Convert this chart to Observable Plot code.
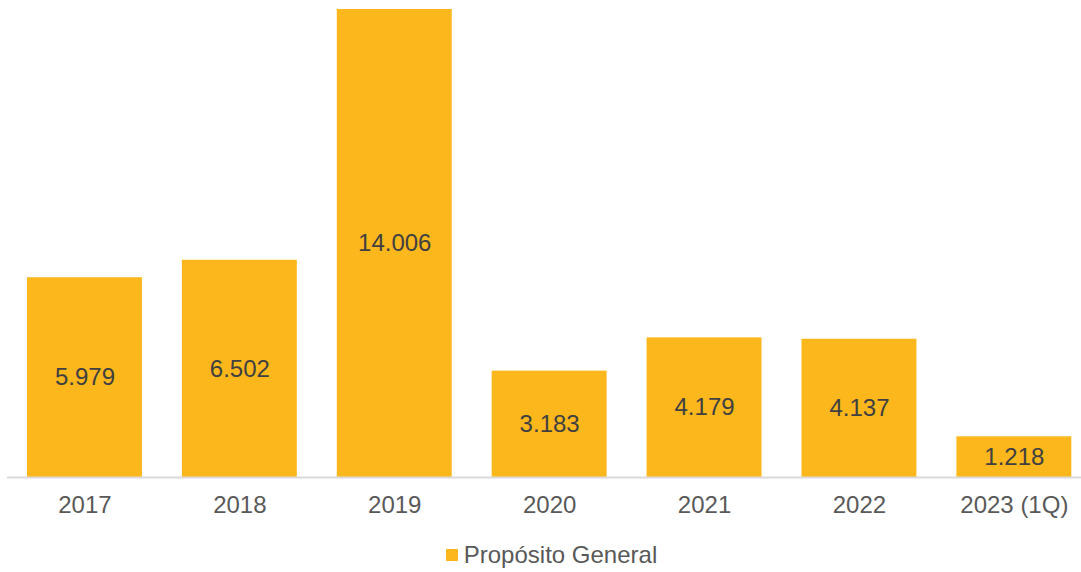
<!DOCTYPE html>
<html>
<head>
<meta charset="utf-8">
<script src="https://cdn.jsdelivr.net/npm/d3@7"></script>
<script src="https://cdn.jsdelivr.net/npm/@observablehq/plot@0.6"></script>
<style>
  html, body { margin: 0; padding: 0; background: #fff; }
  body { width: 1081px; height: 572px; overflow: hidden; font-family: "Liberation Sans", Arial, sans-serif; }
  #legend { display: flex; justify-content: center; align-items: center; margin-top: 12px; height: 26px; color: #595959; font-size: 24px; padding-left: 38px; }
  #legend .sw { width: 12px; height: 12px; background: #FCB71C; margin-right: 6px; margin-left: -16px; }
</style>
</head>
<body>
<div id="chart"></div>
<div id="legend"><span class="sw"></span><span id="legtext"></span></div>
<script>
const categories = ["2017", "2018", "2019", "2020", "2021", "2022", "2023 (1Q)"];
const values = [5979, 6502, 14006, 3183, 4179, 4137, 1218];
const labels = ["5.979", "6.502", "14.006", "3.183", "4.179", "4.137", "1.218"];
const seriesName = "Propósito General";
const barColor = "#FCB71C";

const data = categories.map((c, i) => ({cat: c, value: values[i], label: labels[i]}));

const chart = Plot.plot({
  width: 1081,
  height: 530,
  marginTop: 9,
  marginBottom: 53,
  marginLeft: 7,
  marginRight: 0,
  style: {fontFamily: "'Liberation Sans', Arial, sans-serif", fontSize: "24px", background: "#fff"},
  x: {domain: categories, range: [7, 1091.3], paddingInner: 0.258, paddingOuter: 0.129, round: false, label: null},
  y: {domain: [0, 14006], axis: null},
  marks: [
    Plot.barY(data, {x: "cat", y: "value", fill: barColor}),
    Plot.ruleY([0], {stroke: "#d9d9d9", strokeWidth: 2}),
    Plot.text(data, {x: "cat", y: d => d.value / 2, text: "label", fill: "#404040", fontSize: 24, lineAnchor: "middle"}),
    Plot.axisX({tickSize: 0, tickPadding: 18, fill: "#595959", fontSize: 24, label: null})
  ]
});
document.getElementById("chart").appendChild(chart);
document.getElementById("legtext").textContent = seriesName;
</script>
</body>
</html>
